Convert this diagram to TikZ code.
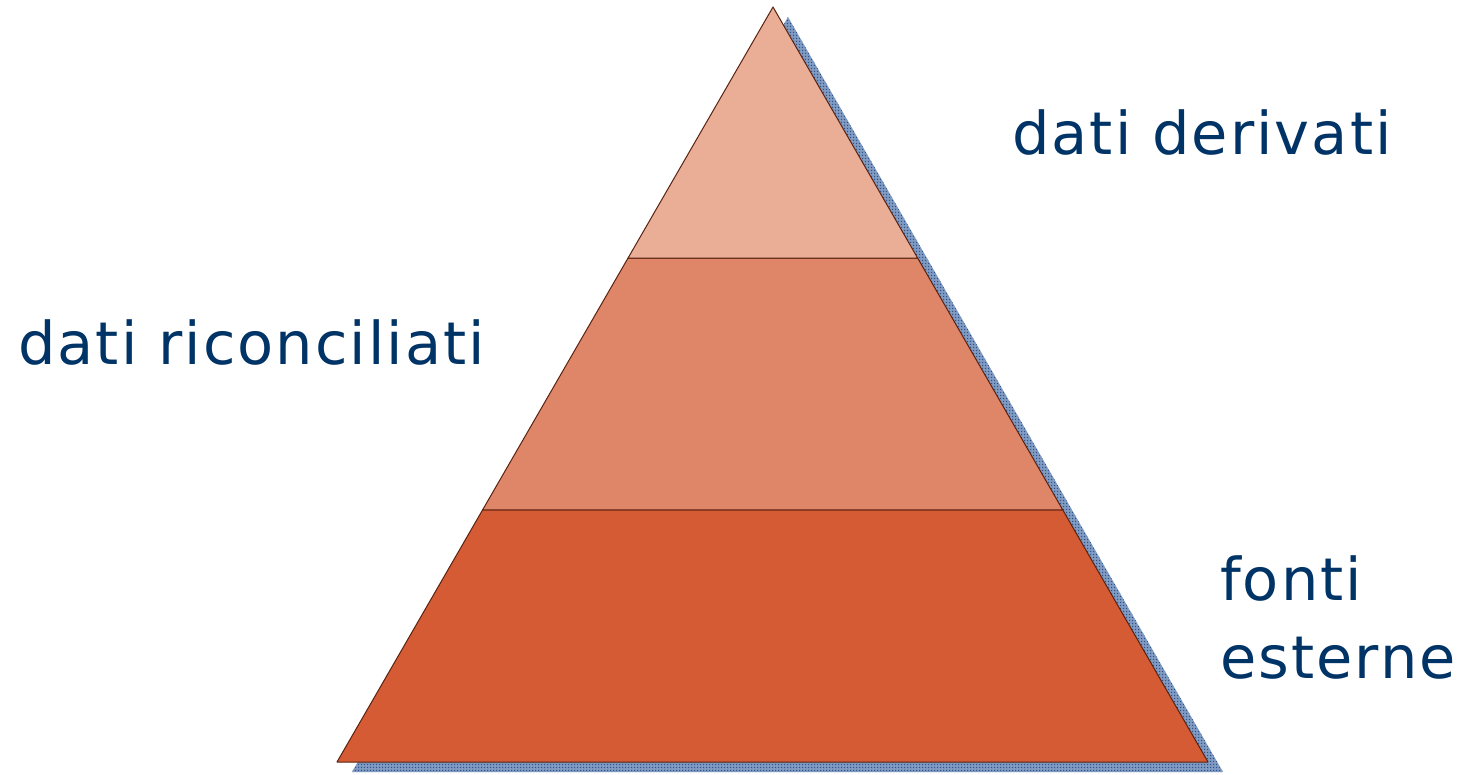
\documentclass[tikz,border=0pt]{standalone}
\usepackage{fontspec}
\setmainfont[LetterSpace=3.5]{DejaVu Sans}
\usetikzlibrary{calc,patterns}
\definecolor{topcol}{HTML}{EAAE97}
\definecolor{midcol}{HTML}{DF8568}
\definecolor{botcol}{HTML}{D45B34}
\definecolor{edgecol}{HTML}{5A2210}
\definecolor{labelcol}{HTML}{003366}
\definecolor{shadelight}{HTML}{7A96C0}
\definecolor{shadedark}{HTML}{1B4580}
\tikzset{
  layer/.style={draw=edgecol, line width=1pt, line join=round},
  label/.style={text=labelcol, anchor=base west, inner sep=0pt,
    font=\fontsize{59}{78}\selectfont, align=left}
}
\begin{document}
\begin{tikzpicture}[x=1pt, y=-1pt]
  \useasboundingbox (0,0) rectangle (1475,775);
  % corners
  \coordinate (apex) at (773,7);
  \coordinate (bl) at (337,762);
  \coordinate (br) at (1208,762);
  \coordinate (l1) at ($(apex)!0.3325!(bl)$);
  \coordinate (r1) at ($(apex)!0.3325!(br)$);
  \coordinate (l2) at ($(apex)!0.666!(bl)$);
  \coordinate (r2) at ($(apex)!0.666!(br)$);
  % shadow
  \coordinate (sapex) at ($(apex)+(15,10)$);
  \coordinate (sbl) at ($(bl)+(15,10)$);
  \coordinate (sbr) at ($(br)+(15,10)$);
  \fill[shadelight] (sapex) -- (sbr) -- (sbl) -- cycle;
  \fill[pattern=crosshatch dots, pattern color=shadedark] (sapex) -- (sbr) -- (sbl) -- cycle;
  \fill[pattern=dots, pattern color=white] (sapex) -- (sbr) -- (sbl) -- cycle;
  % layers
  \filldraw[layer, fill=botcol] (l2) -- (r2) -- (br) -- (bl) -- cycle;
  \filldraw[layer, fill=midcol] (l1) -- (r1) -- (r2) -- (l2) -- cycle;
  \filldraw[layer, fill=topcol] (apex) -- (r1) -- (l1) -- cycle;
  % labels
  \node[label] (derivati) at (1012,155) {dati derivati};
  \node[label] (riconciliati) at (18,365) {dati riconciliati};
  \node[label] (fonti) at (1220,678) {fonti\\esterne};
\end{tikzpicture}
\end{document}
